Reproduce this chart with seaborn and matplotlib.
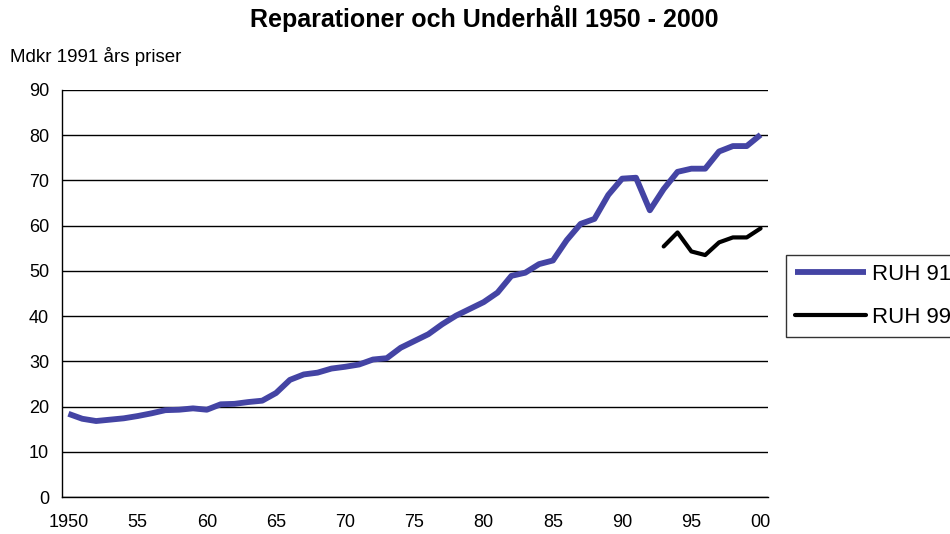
import numpy as np
import pandas as pd
import matplotlib
matplotlib.use("Agg")
import matplotlib.pyplot as plt
import seaborn as sns

# data (Mdkr, 1991 prices)
years = list(range(1950, 2001))
ruh91 = [18.4, 17.3, 16.8, 17.1, 17.4, 17.9, 18.5, 19.2, 19.3, 19.6,
         19.3, 20.5, 20.6, 21.0, 21.3, 23.0, 25.9, 27.1, 27.5, 28.4,
         28.8, 29.3, 30.4, 30.7, 33.0, 34.5, 36.0, 38.2, 40.1, 41.6,
         43.1, 45.2, 48.9, 49.6, 51.5, 52.3, 56.8, 60.4, 61.5, 66.8,
         70.4, 70.6, 63.4, 68.1, 71.9, 72.6, 72.6, 76.4, 77.6, 77.6, 80.1]
years99 = list(range(1993, 2001))
ruh99 = [55.4, 58.5, 54.3, 53.5, 56.3, 57.4, 57.4, 59.4]
tick_years = [1950, 1955, 1960, 1965, 1970, 1975, 1980, 1985, 1990, 1995, 2000]
tick_labels = ["1950", "55", "60", "65", "70", "75", "80", "85", "90", "95", "00"]

df91 = pd.DataFrame({"year": years, "value": ruh91})
df99 = pd.DataFrame({"year": years99, "value": ruh99})

sns.set_style("white")
plt.rcParams["font.family"] = ["Liberation Sans", "DejaVu Sans"]
plt.rcParams["text.color"] = "black"
plt.rcParams["xtick.labelcolor"] = "black"
plt.rcParams["ytick.labelcolor"] = "black"

fig = plt.figure(figsize=(9.5, 5.34), dpi=100)
ax = fig.add_axes([61.5 / 950, 37 / 534, 706 / 950, 407 / 534])

sns.lineplot(data=df91, x="year", y="value", ax=ax, color="#4444a4",
             linewidth=4.2, label="RUH 91", solid_capstyle="butt")
sns.lineplot(data=df99, x="year", y="value", ax=ax, color="black",
             linewidth=3.0, label="RUH 99", solid_capstyle="round")

ax.set_xlim(1949.5, 2000.5)
ax.set_ylim(0, 90)
ax.set_yticks(np.arange(0, 91, 10))
ax.set_xticks(tick_years)
ax.set_xticklabels(tick_labels)
ax.set_xticks(np.arange(1949.5, 2001, 1), minor=True)
ax.tick_params(axis="x", which="major", length=0, pad=12, labelsize=13)
ax.tick_params(axis="x", which="minor", length=5, width=1, color="black",
               direction="out")
ax.tick_params(axis="y", length=5, width=1, color="black", direction="out",
               labelsize=13, pad=4)
ax.set_xlabel("")
ax.set_ylabel("")

ax.grid(axis="y", color="black", linewidth=1)
ax.set_axisbelow(True)
for side in ["top", "right"]:
    ax.spines[side].set_visible(False)
for side in ["left", "bottom"]:
    ax.spines[side].set_color("black")
    ax.spines[side].set_linewidth(1)

fig.text(484 / 950, 1 - 19 / 534, "Reparationer och Underhåll 1950 - 2000",
         ha="center", va="center", fontsize=18, fontweight="bold")
fig.text(10 / 950, 1 - 62 / 534, "Mdkr 1991 års priser", ha="left",
         va="baseline", fontsize=13.5)

leg = ax.legend(loc="upper left", bbox_to_anchor=(786 / 950, 1 - 255 / 534),
                bbox_transform=fig.transFigure, frameon=True, fancybox=False,
                fontsize=16, handlelength=3.2, handletextpad=0.27,
                borderpad=0.4, labelspacing=1.0, borderaxespad=0)
leg.get_frame().set_edgecolor("black")
leg.get_frame().set_linewidth(1)

fig.savefig("out.png", dpi=100)
